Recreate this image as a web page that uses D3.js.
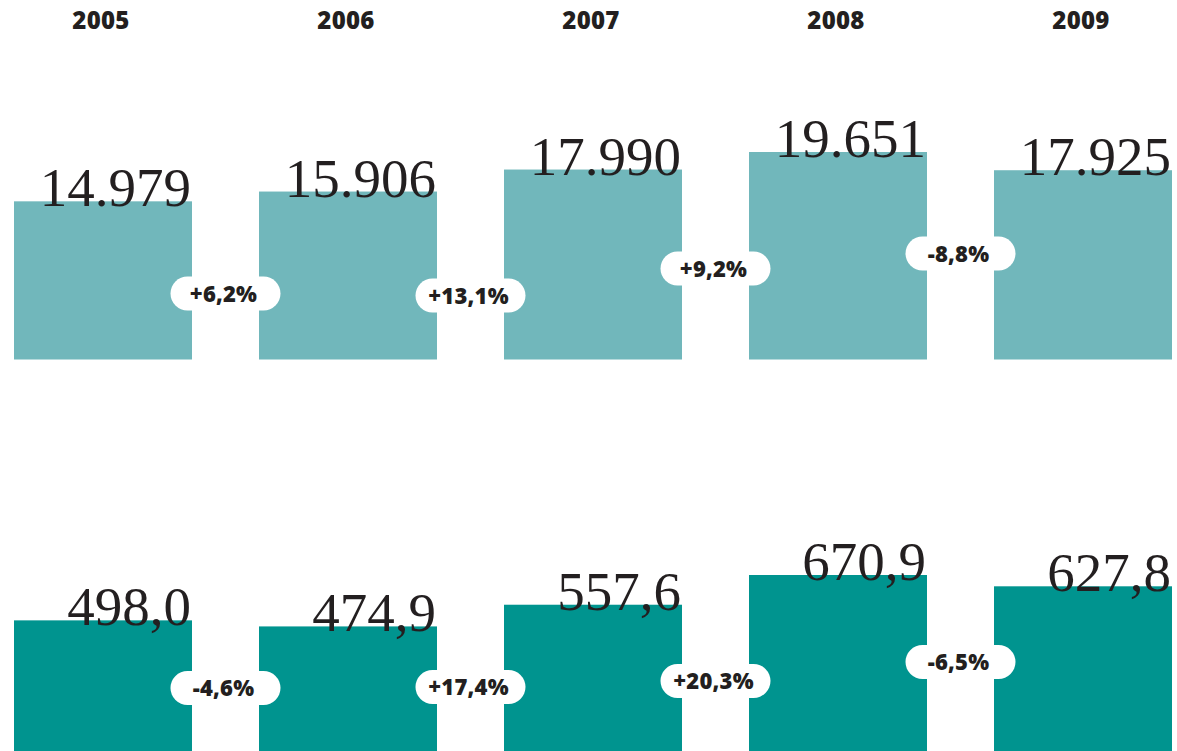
<!DOCTYPE html>
<html>
<head>
<meta charset="utf-8">
<script src="https://cdn.jsdelivr.net/npm/d3@7"></script>
<style>
  html, body { margin: 0; padding: 0; background: #ffffff; }
  svg { display: block; }
</style>
</head>
<body>
<svg id="chart" width="1177" height="751"></svg>
<script>
// Years shown across both rows
const years = ["2005", "2006", "2007", "2008", "2009"];

// Upper row values and their year-on-year change labels
const upperValues = [14979, 15906, 17990, 19651, 17925];
const upperLabels = ["14.979", "15.906", "17.990", "19.651", "17.925"];
const upperChanges = ["+6,2%", "+13,1%", "+9,2%", "-8,8%"];

// Lower row values and their year-on-year change labels
const lowerValues = [498.0, 474.9, 557.6, 670.9, 627.8];
const lowerLabels = ["498,0", "474,9", "557,6", "670,9", "627,8"];
const lowerChanges = ["-4,6%", "+17,4%", "+20,3%", "-6,5%"];

// Layout: how far each change badge sits above its row's baseline (px)
const upperBadgeRise = [66, 64, 91, 106];
const lowerBadgeRise = [63, 64, 70, 89];

const ink = "#231f20";
const svg = d3.select("#chart");

const x = d3.scaleBand()
  .domain(years)
  .range([14, 1172])
  .paddingInner(0.2735)
  .paddingOuter(0);

// Year headings
svg.append("g")
  .selectAll("text")
  .data(years)
  .join("text")
  .attr("x", d => x(d) + x.bandwidth() / 2 - 2)
  .attr("y", 29)
  .attr("text-anchor", "middle")
  .attr("font-family", "'Open Sans', sans-serif")
  .attr("font-weight", 800)
  .attr("font-size", 24)
  .attr("letter-spacing", 0.3)
  .attr("fill", ink)
  .text(d => d);

function drawRow(values, labels, changes, rise, baseline, topValue, topY, color) {
  const y = d3.scaleLinear().domain([0, topValue]).range([baseline, topY]);
  const g = svg.append("g");

  g.selectAll("rect")
    .data(values)
    .join("rect")
    .attr("x", (d, i) => x(years[i]))
    .attr("width", x.bandwidth())
    .attr("y", d => y(d))
    .attr("height", d => baseline - y(d))
    .attr("fill", color);

  g.selectAll("text.value")
    .data(values)
    .join("text")
    .attr("class", "value")
    .attr("x", (d, i) => x(years[i]) + x.bandwidth() - 1)
    .attr("y", d => y(d) + 5)
    .attr("text-anchor", "end")
    .attr("font-family", "'Liberation Serif', serif")
    .attr("font-size", 55)
    .attr("fill", ink)
    .text((d, i) => labels[i]);

  // Change badges sit in the gap between consecutive bars
  const badgeW = 110, badgeH = 34;
  const badges = g.selectAll("g.badge")
    .data(changes)
    .join("g")
    .attr("class", "badge")
    .attr("transform", (d, i) => {
      const cx = (x(years[i]) + x.bandwidth() + x(years[i + 1])) / 2;
      const cy = baseline - rise[i];
      return `translate(${cx},${cy})`;
    });

  badges.append("rect")
    .attr("x", -badgeW / 2)
    .attr("y", -badgeH / 2)
    .attr("width", badgeW)
    .attr("height", badgeH)
    .attr("rx", badgeH / 2)
    .attr("fill", "#ffffff");

  badges.append("text")
    .attr("x", -2)
    .attr("y", 8)
    .attr("text-anchor", "middle")
    .attr("font-family", "'Open Sans', sans-serif")
    .attr("font-weight", 800)
    .attr("font-size", 22)
    .attr("letter-spacing", 0.2)
    .attr("fill", ink)
    .text(d => d);
}

drawRow(upperValues, upperLabels, upperChanges, upperBadgeRise, 359.5, 19651, 152, "#71b7bb");
drawRow(lowerValues, lowerLabels, lowerChanges, lowerBadgeRise, 751, 670.9, 575, "#00948f");
</script>
</body>
</html>
